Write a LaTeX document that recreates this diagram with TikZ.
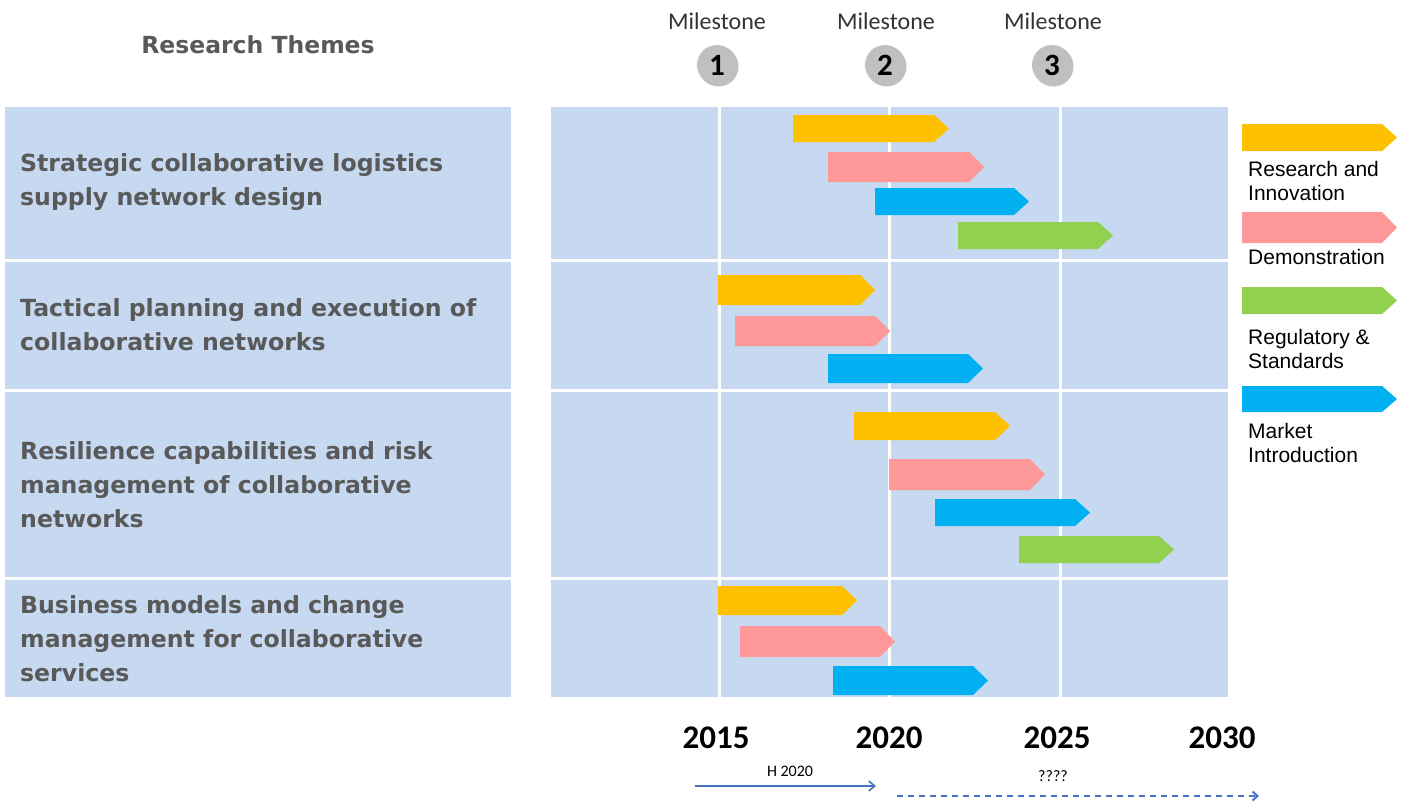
\documentclass[tikz,border=0pt]{standalone}
\usepackage{fontspec}
\setmainfont{Liberation Sans}
\newfontfamily\themefont{DejaVu Sans}
\newfontfamily\calfont{Carlito}
\usetikzlibrary{arrows.meta}

\definecolor{panelblue}{HTML}{C6D9F0}
\definecolor{themegray}{HTML}{595959}
\definecolor{riyellow}{HTML}{FFC000}
\definecolor{demopink}{HTML}{FF9999}
\definecolor{regreen}{HTML}{92D050}
\definecolor{mktblue}{HTML}{00B0F0}
\definecolor{axisblue}{HTML}{4472C4}
\definecolor{msgray}{HTML}{C0C0C0}

% stage bar: colour, left x, right tip x, top y, bottom y
\newcommand{\stagebar}[5]{%
  \fill[#1] (#2,#4) -- (#3-15,#4) -- (#3,{(#4+#5)/2}) -- (#3-15,#5) -- (#2,#5) -- cycle;}

\tikzset{
  themebox/.style={fill=panelblue},
  themetext/.style={anchor=west, align=left, inner sep=0pt, text=themegray,
    font=\themefont\bfseries\fontsize{23.6}{34}\selectfont},
  gridline/.style={draw=white, line width=3pt},
  mslabel/.style={font=\calfont\fontsize{24}{26}\selectfont, text=black!80},
  msdot/.style={circle, fill=msgray, minimum size=40pt, inner sep=0pt,
    font=\calfont\bfseries\fontsize{31}{33}\selectfont},
  yearlabel/.style={font=\calfont\bfseries\fontsize{33}{35}\selectfont},
  legendtext/.style={anchor=north west, align=left, inner sep=0pt,
    font=\fontsize{21}{24.5}\selectfont},
  smalllabel/.style={font=\calfont\fontsize{16}{18}\selectfont},
}

\begin{document}
\begin{tikzpicture}[x=1pt, y=-1pt]
\useasboundingbox (0,0) rectangle (1407,801);
\fill[white] (0,0) rectangle (1407,801);

% header
\node[font=\themefont\bfseries\fontsize{23.5}{26}\selectfont, text=themegray] (hdr) at (258,45) {Research Themes};

\node[mslabel] (ms1l) at (717,21) {Milestone};
\node[mslabel] (ms2l) at (886,21) {Milestone};
\node[mslabel] (ms3l) at (1053,21) {Milestone};
\fill[black!25] (718.5,66.5) circle (20);
\fill[black!25] (886.5,66.5) circle (20);
\fill[black!25] (1053.5,66.5) circle (20);
\node[msdot] (ms1) at (717,65) {1};
\node[msdot] (ms2) at (885,65) {2};
\node[msdot] (ms3) at (1052,65) {3};

% theme rows, left and right panels
\foreach \ya/\yb in {107/259, 262/389, 392/577, 580/697} {
  \fill[themebox] (5,\ya) rectangle (511,\yb);
  \fill[themebox] (551,\ya) rectangle (1228,\yb);
}
\foreach \gx in {719, 889, 1060}
  \draw[gridline] (\gx,107) -- (\gx,697);

\node[themetext] (t1) at (20,182) {Strategic collaborative logistics\\supply network design};
\node[themetext] (t2) at (20,325) {Tactical planning and execution of\\collaborative networks};
\node[themetext] (t3) at (20,484.5) {Resilience capabilities and risk\\management of collaborative\\networks};
\node[themetext] (t4) at (20,638.5) {Business models and change\\management for collaborative\\services};

% row 1
\stagebar{riyellow}{793}{949}{115}{142}
\stagebar{demopink}{828}{984}{152}{182}
\stagebar{mktblue}{875}{1029}{188}{215}
\stagebar{regreen}{958}{1113}{222}{249}
% row 2
\stagebar{riyellow}{718}{875}{275}{305}
\stagebar{demopink}{735}{890}{316}{346}
\stagebar{mktblue}{828}{983}{354}{383}
% row 3
\stagebar{riyellow}{854}{1010}{412}{440}
\stagebar{demopink}{889}{1045}{459}{490}
\stagebar{mktblue}{935}{1090}{499}{526}
\stagebar{regreen}{1019}{1174}{536}{563}
% row 4
\stagebar{riyellow}{718}{857}{586}{615}
\stagebar{demopink}{740}{895}{626}{657}
\stagebar{mktblue}{833}{988}{666}{695}

% legend
\stagebar{riyellow}{1242}{1397}{124}{151}
\stagebar{demopink}{1242}{1397}{212}{243}
\stagebar{regreen}{1242}{1397}{287}{314}
\stagebar{mktblue}{1242}{1397}{386}{412}
\node[legendtext] (lg1) at (1248,161) {Research and\\Innovation};
\node[legendtext] (lg2) at (1248,249) {Demonstration};
\node[legendtext] (lg3) at (1248,329) {Regulatory \&\\Standards};
\node[legendtext] (lg4) at (1248,423) {Market\\Introduction};

% year axis
\node[yearlabel] (y15) at (716,738) {2015};
\node[yearlabel] (y20) at (889,738) {2020};
\node[yearlabel] (y25) at (1057,738) {2025};
\node[yearlabel] (y30) at (1222,738) {2030};

\node[smalllabel] (h2020) at (790,771) {H 2020};
\node[smalllabel] (unk) at (1053,776) {????};
\coordinate (h2020a) at (695,786);
\coordinate (h2020b) at (876,786);
\coordinate (unka) at (897,796);
\coordinate (unkb) at (1259,796);
\draw[axisblue, line width=1.6pt, -{Straight Barb[length=6pt, width=10pt]}] (h2020a) -- (h2020b);
\draw[axisblue, line width=2pt, dash pattern=on 6pt off 5pt, -{Straight Barb[length=5pt, width=9pt]}] (unka) -- (unkb);
\end{tikzpicture}
\end{document}
